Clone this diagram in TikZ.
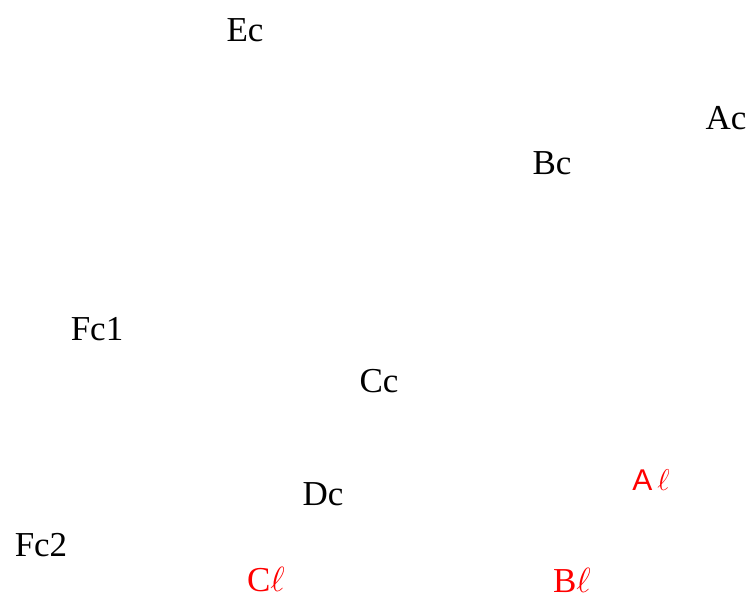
\RequirePackage{fix-cm}
\documentclass[tikz,border=0pt]{standalone}
\usepackage{fontspec}
\setmainfont{Liberation Serif}
\newfontfamily\lsans{Liberation Sans}
\begin{document}
\begin{tikzpicture}[x=1pt,y=-1pt,
  lbl/.style={inner sep=0pt,font=\fontsize{35}{40}\selectfont},
  red lbl/.style={lbl,text=red}]
\useasboundingbox (0,0) rectangle (750,600);
\node[lbl] (Ec) at (245,30) {Ec};
\node[lbl] (Ac) at (726,118) {Ac};
\node[lbl] (Bc) at (552,163) {Bc};
\node[lbl] (Fc1) at (97,329) {Fc1};
\node[lbl] (Cc) at (379,381) {Cc};
\node[lbl] (Dc) at (323,494) {Dc};
\node[lbl] (Fc2) at (41,545) {Fc2};
\node[red lbl,font=\fontsize{30}{34}\selectfont] (Al) at (651,480) {{\lsans A}\,$\ell$};
\node[red lbl] (Cl) at (266,580) {C$\ell$};
\node[red lbl] (Bl) at (572,580) {B$\ell$};
\end{tikzpicture}
\end{document}
